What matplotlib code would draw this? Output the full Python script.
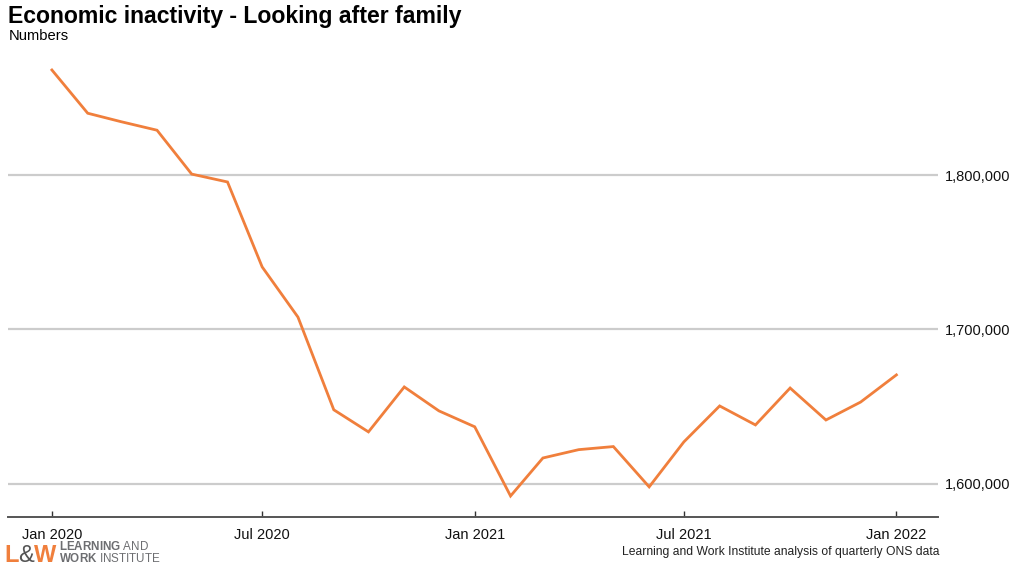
import numpy as np
import pandas as pd
import matplotlib
matplotlib.use("Agg")
import matplotlib.pyplot as plt
import matplotlib.dates as mdates
from matplotlib.ticker import FuncFormatter

# monthly values, Jan 2020 .. Jan 2022
months = pd.date_range("2020-01-01", periods=25, freq="MS")
values = [1868000, 1840000, 1834500, 1829000, 1800600, 1795500, 1740500,
          1708000, 1648000, 1633700, 1662800, 1647300, 1637000, 1592200,
          1616800, 1622200, 1624200, 1598100, 1627200, 1650500, 1638200,
          1662100, 1641400, 1653000, 1670600]
yticks = [1600000, 1700000, 1800000]
xticks = ["2020-01-01", "2020-07-01", "2021-01-01", "2021-07-01", "2022-01-01"]

orange = "#F07F3C"
grey_txt = "#6d6e71"

plt.rcParams["font.family"] = ["Liberation Sans", "DejaVu Sans"]
plt.rcParams["mathtext.fontset"] = "custom"
plt.rcParams["mathtext.rm"] = "Liberation Sans"
plt.rcParams["mathtext.bf"] = "Liberation Sans:bold"

fig = plt.figure(figsize=(10.23, 5.86), dpi=100)
ax = fig.add_axes([8 / 1023, 1 - 517 / 586, 930 / 1023, 462 / 586])

ax.plot(months, values, color=orange, linewidth=2.0, solid_joinstyle="miter")

ax.set_ylim(1578600, 1877700)
ax.set_xlim(pd.Timestamp("2019-11-24"), pd.Timestamp("2022-02-06"))
ax.set_yticks(yticks)
ax.yaxis.set_major_formatter(FuncFormatter(lambda v, p: f"{int(v):,}"))
ax.yaxis.tick_right()
ax.tick_params(axis="y", length=0, pad=5, labelsize=10.5, labelcolor="#111111")
ax.set_xticks(pd.to_datetime(xticks))
ax.xaxis.set_major_formatter(mdates.DateFormatter("%b %Y"))
ax.tick_params(axis="x", direction="in", length=4, width=1, color="#333333",
               labelsize=10.5, pad=8, labelcolor="#111111")

ax.grid(axis="y", color="#cccccc", linewidth=1.6)
ax.set_axisbelow(True)
for s in ["top", "left", "right"]:
    ax.spines[s].set_visible(False)
ax.spines["bottom"].set_color("#555555")
ax.spines["bottom"].set_linewidth(1.4)

fig.text(8 / 1023, 1 - 23.5 / 586, "Economic inactivity - Looking after family",
         fontsize=16.6, fontweight="bold", va="baseline", ha="left")
fig.text(9 / 1023, 1 - 40 / 586, "Numbers", fontsize=10.6, va="baseline", ha="left")
fig.text(940 / 1023, 1 - 555 / 586,
         "Learning and Work Institute analysis of quarterly ONS data",
         fontsize=8.7, ha="right", va="baseline", color="#222222")

# logo
fig.text(4 / 1023, 1 - 562 / 586, "L", fontsize=17, fontweight="bold",
         color=orange, ha="left", va="baseline")
fig.text(18.5 / 1023, 1 - 562 / 586, "&", fontsize=17, color="#555555",
         ha="left", va="baseline")
fig.text(34 / 1023, 1 - 562 / 586, "W", fontsize=17, fontweight="bold",
         color=orange, ha="left", va="baseline")
fig.text(59 / 1023, 1 - 550 / 586, r"$\bf{LEARNING}$ AND", fontsize=8.4,
         color=grey_txt, ha="left", va="baseline")
fig.text(59 / 1023, 1 - 562 / 586, r"$\bf{WORK}$ INSTITUTE", fontsize=8.4,
         color=grey_txt, ha="left", va="baseline")

fig.savefig("out.png", dpi=100)
